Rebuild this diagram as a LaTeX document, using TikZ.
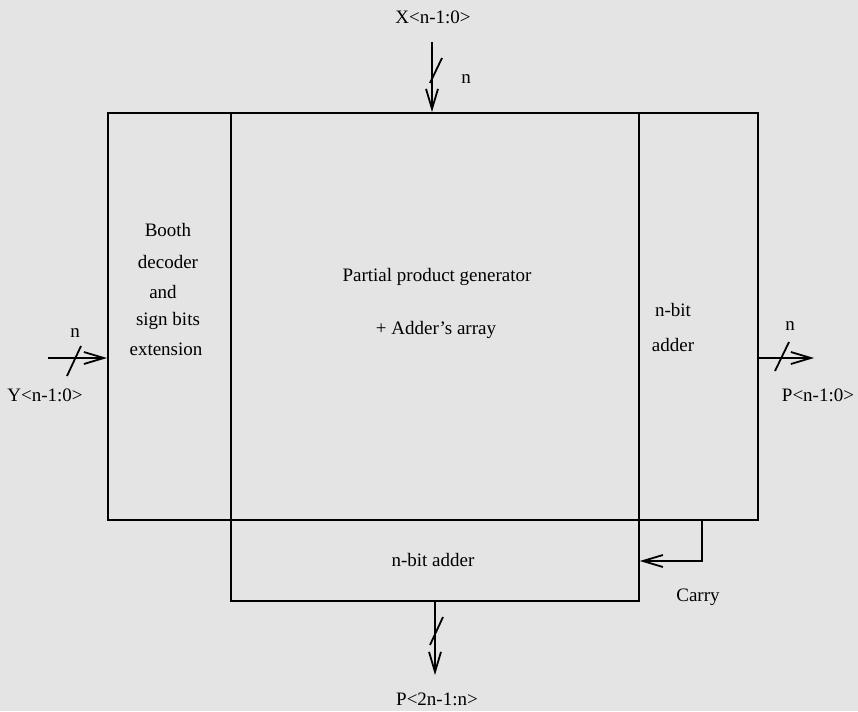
\documentclass[tikz,border=0pt]{standalone}
\usepackage{fontspec}
\setmainfont{Liberation Serif}
\usetikzlibrary{arrows.meta}
\definecolor{bg}{RGB}{228,228,228}
\begin{document}
\begin{tikzpicture}[x=1pt,y=-1pt,
  blk/.style={draw,line width=1.8pt,rectangle,inner sep=0pt,anchor=north west},
  lbl/.style={font=\fontsize{19}{22}\selectfont,inner sep=0pt},
  bus/.style={line width=1.8pt,-{Straight Barb[length=20pt,width=12pt,line width=1.8pt]}},
  slash/.style={line width=1.8pt}]
\fill[bg] (0,0) rectangle (858,711);
\useasboundingbox (0,0) rectangle (858,711);
% blocks
\node[blk,minimum width=123pt,minimum height=407pt] (booth) at (107,112) {};
\node[blk,minimum width=408pt,minimum height=407pt] (ppg) at (230,112) {};
\node[blk,minimum width=119pt,minimum height=407pt] (radd) at (638,112) {};
\node[blk,minimum width=408pt,minimum height=81pt] (badd) at (230,519) {};
% texts
\node[lbl] (t1) at (168,230) {Booth};
\node[lbl] (t2) at (168,262) {decoder};
\node[lbl] (t3) at (163,292) {and};
\node[lbl] (t4) at (168,321) {sign bits};
\node[lbl] (t5) at (166,349) {extension};
\node[lbl] (t6) at (437,277) {Partial product generator};
\node[lbl] (t7) at (436,330) {+ Adder’s array};
\node[lbl] (t8) at (673,310) {n-bit};
\node[lbl] (t9) at (673,345) {adder};
\node[lbl] (t10) at (433,560) {n-bit adder};
% X input
\node[lbl] (xl) at (433,17) {X<n-1:0>};
\coordinate (xs) at (432,42);
\draw[bus] (xs) -- (xs |- ppg.north);
\draw[slash] (442,58) -- (430,83);
\node[lbl] (xn) at (466,79) {n};
% Y input
\node[lbl] (yl) at (45,395) {Y<n-1:0>};
\coordinate (ys) at (48,358);
\draw[bus] (ys) -- (ys -| booth.west);
\draw[slash] (81,346) -- (67,376);
\node[lbl] (yn) at (75,333) {n};
% P low output
\node[lbl] (pl) at (818,395) {P<n-1:0>};
\coordinate (pe) at (814,358);
\draw[bus] (pe -| radd.east) -- (pe);
\draw[slash] (789,342) -- (775,371);
\node[lbl] (pn) at (790,326) {n};
% P high output
\node[lbl] (ph) at (437,699) {P<2n-1:n>};
\coordinate (pb) at (435,675);
\draw[bus] (pb |- badd.south) -- (pb);
\draw[slash] (443,617) -- (430,645);
% carry
\coordinate (c1) at (702,519);
\coordinate (c2) at (702,561);
\draw[bus] (c1) -- (c2) -- (c2 -| badd.east);
\node[lbl] (cl) at (698,597) {Carry};
\end{tikzpicture}
\end{document}
